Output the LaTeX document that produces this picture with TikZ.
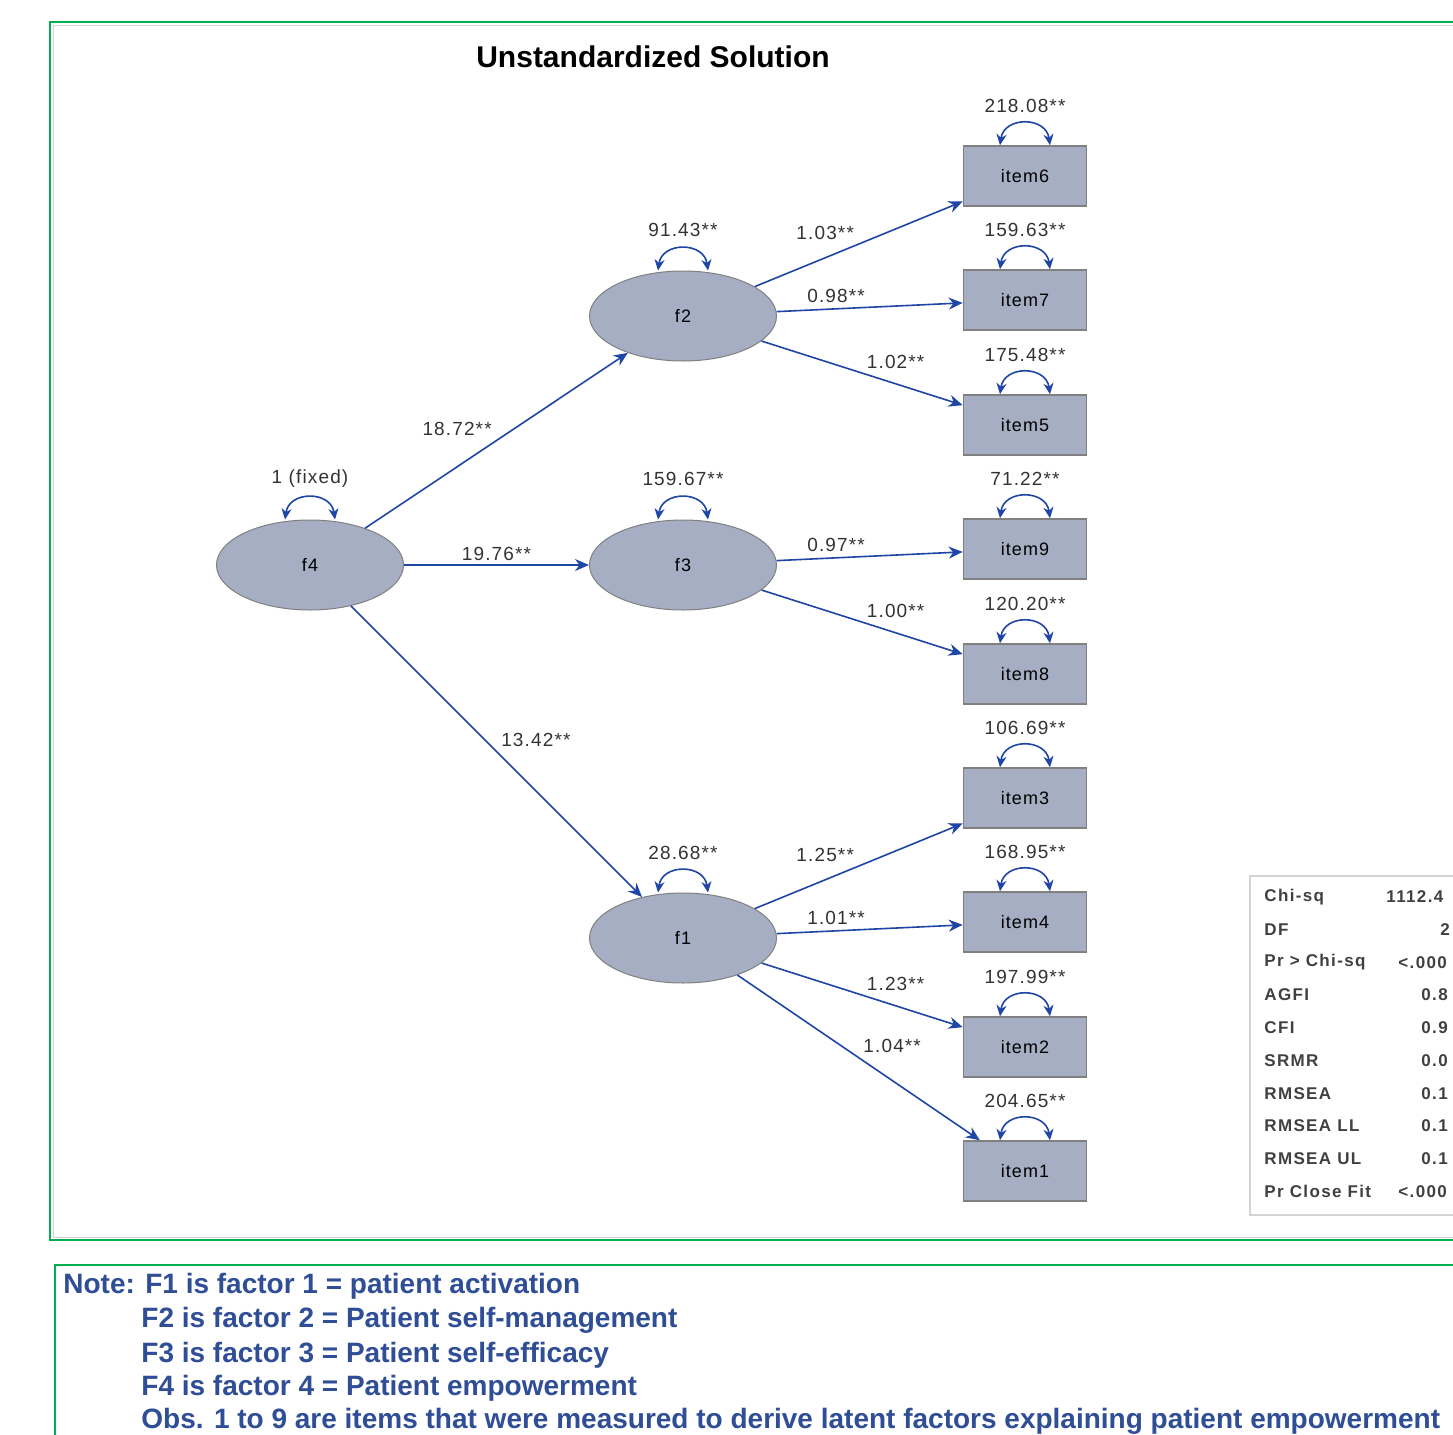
\documentclass[tikz,border=0pt]{standalone}
\usepackage{fontspec}
\setmainfont{Liberation Sans}
\newfontfamily\semfont[LetterSpace=6]{Liberation Sans}
\newfontfamily\statfont[LetterSpace=8]{Liberation Sans}
\usepackage{tikz}
\usetikzlibrary{shapes.geometric, arrows.meta, positioning, calc}
\definecolor{semfill}{HTML}{A5AEC3}
\definecolor{semedge}{HTML}{808080}
\definecolor{pathblue}{HTML}{1F45A6}
\definecolor{framegreen}{HTML}{00B050}
\definecolor{noteblue}{HTML}{2F4E96}
\definecolor{labelgray}{HTML}{333333}
\definecolor{statgray}{HTML}{404040}
\definecolor{boxgray}{HTML}{D4D4D4}

\begin{document}
\begin{tikzpicture}[x=0.5pt, y=-0.5pt,
  latent/.style={ellipse, fill=semfill, draw=semedge, line width=0.5pt,
    minimum width=93.5pt, minimum height=45pt, inner sep=0pt,
    font=\semfont\fontsize{9}{10}\selectfont},
  manifest/.style={rectangle, fill=semfill, draw=semedge, line width=0.8pt,
    minimum width=61.5pt, minimum height=30pt, inner sep=0pt,
    font=\semfont\fontsize{9}{10}\selectfont},
  lbl/.style={font=\semfont\fontsize{9.5}{10}\selectfont, text=labelgray, inner sep=2pt},
  loading/.style={draw=pathblue, line width=0.8pt, -{Stealth[length=7pt, width=6pt]}},
  varloop/.style={draw=pathblue, line width=0.8pt,
    {Stealth[length=5.5pt, width=5pt]}-{Stealth[length=5.5pt, width=5pt]}},
  stat/.style={font=\statfont\bfseries\fontsize{8.5}{10}\selectfont, text=statgray,
    anchor=west, inner sep=0pt},
  note/.style={font=\bfseries\fontsize{14}{16}\selectfont, text=noteblue,
    anchor=west, inner sep=0pt}
]
  \useasboundingbox (0,0) rectangle (1453,1435);
  \clip (0,0) rectangle (1453,1435);
  \fill[white] (0,0) rectangle (1453,1435);

  % frames
  \draw[boxgray, line width=0.5pt] (53,25) rectangle (1470,1237);
  \draw[framegreen, line width=1pt] (50,22) rectangle (1470,1240);
  \draw[framegreen, line width=1pt] (55,1265) rectangle (1470,1460);

  % title
  \node[font=\bfseries\fontsize{15}{17}\selectfont, text=black] (title) at (653,57) {Unstandardized Solution};

  % latent factors
  \node[latent] (f2) at (683,316) {f2};
  \node[latent] (f3) at (683,565) {f3};
  \node[latent] (f4) at (310,565) {f4};
  \node[latent] (f1) at (683,938) {f1};
  \node[lbl] (vf4) at (310,479) {1 (fixed)};
  \node[lbl] (vf2) at (683,230) {91.43**};
  \node[lbl] (vf3) at (683,479) {159.67**};
  \node[lbl] (vf1) at (683,853) {28.68**};

  % observed items
  \foreach \n/\y/\vlab in {6/176/218.08, 7/300/159.63, 5/425/175.48, 9/549/71.22,
      8/674/120.20, 3/798/106.69, 4/922/168.95, 2/1047/197.99, 1/1171/204.65}{
    \node[manifest] (i\n) at (1025,\y) {item\n};
    \node[lbl] (v\n) at (1025,\y-70) {\vlab**};
  }

  % variances
  \foreach \n in {f1,f2,f3,f4,i1,i2,i3,i4,i5,i6,i7,i8,i9}
    \draw[varloop] ($(\n.north)+(-25,0)$) .. controls +(4,-29) and +(-4,-29) .. ($(\n.north)+(25,0)$);

  % structural paths
  \draw[loading] (f4) -- node[lbl, auto] (p42) {18.72**} (f2);
  \draw[loading] (f4) -- node[lbl, auto] (p43) {19.76**} (f3);
  \draw[loading] (f4) -- node[lbl, auto] (p41) {13.42**} (f1);

  % loadings
  \draw[loading] (f2) -- node[lbl, auto] (l6) {1.03**} (i6);
  \draw[loading] (f2) -- node[lbl, above left] (l7) {0.98**} (i7);
  \draw[loading] (f2) -- node[lbl, auto] (l5) {1.02**} (i5);
  \draw[loading] (f3) -- node[lbl, above left] (l9) {0.97**} (i9);
  \draw[loading] (f3) -- node[lbl, auto] (l8) {1.00**} (i8);
  \draw[loading] (f1) -- node[lbl, auto] (l3) {1.25**} (i3);
  \draw[loading] (f1) -- node[lbl, above left] (l4) {1.01**} (i4);
  \draw[loading] (f1) -- node[lbl, auto] (l2) {1.23**} (i2);
  \draw[loading] (f1) -- node[lbl, auto] (l1) {1.04**} (i1);

  % fit statistics
  \draw[boxgray, line width=0.8pt] (1250,876) rectangle (1470,1215);
  \foreach \s/\val/\vx [count=\k] in {Chi-sq/1112.4/1386, DF/2/1440,
      Pr > Chi-sq/<.000/1398, AGFI/0.8/1421, CFI/0.9/1421, SRMR/0.0/1421,
      RMSEA/0.1/1421, RMSEA LL/0.1/1421, RMSEA UL/0.1/1421, Pr Close Fit/<.000/1398}{
    \node[stat] (s\k) at (1264,{897+(\k-1)*32.7}) {\s};
    \node[stat] (sv\k) at (\vx,{897+(\k-1)*32.7}) {\val};
  }

  % note
  \node[note] (note1) at (63,1286) {Note: F1 is factor 1 = patient activation};
  \node[note] (note2) at (141,1320) {F2 is factor 2 = Patient self-management};
  \node[note] (note3) at (141,1355) {F3 is factor 3 = Patient self-efficacy};
  \node[note] (note4) at (141,1388) {F4 is factor 4 = Patient empowerment};
  \node[note] (note5) at (141,1421) {Obs. 1 to 9 are items that were measured to derive latent factors explaining patient empowerment};
\end{tikzpicture}
\end{document}
